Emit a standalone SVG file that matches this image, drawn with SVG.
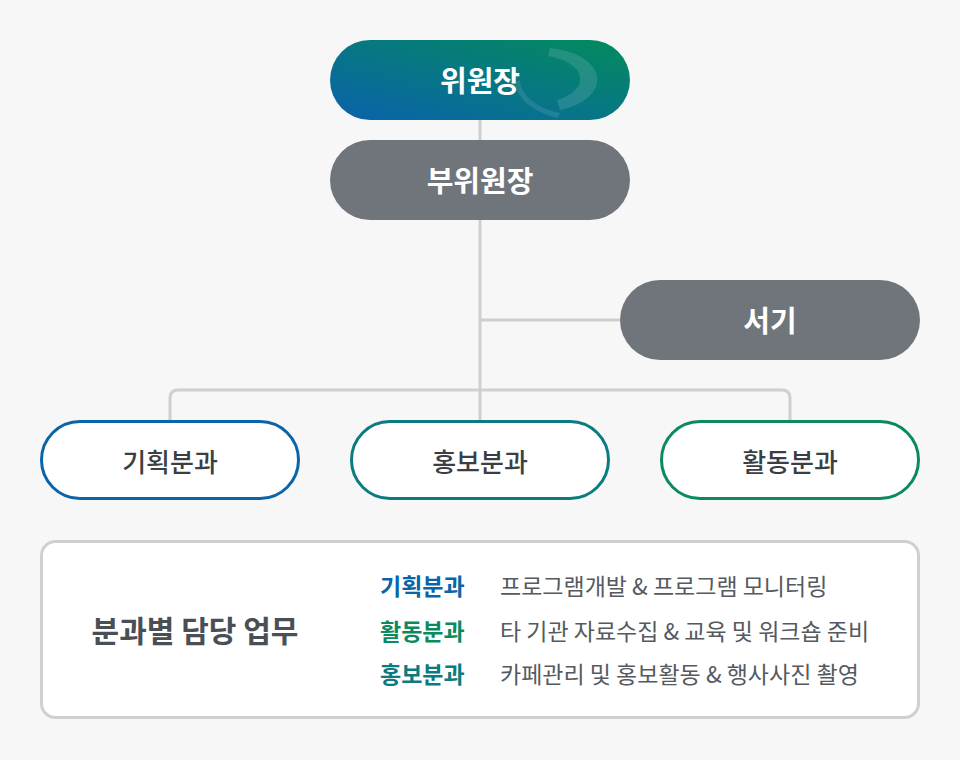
<svg xmlns="http://www.w3.org/2000/svg" width="960" height="760" viewBox="0 0 960 760">
<style>
text{font-family:"Noto Sans CJK KR","Noto Sans",sans-serif;text-anchor:middle;dominant-baseline:central}
.w{fill:#fff;font-size:29px;font-weight:bold}
.sub{fill:#fff;stroke-width:3}
.sl{fill:#3b3f44;font-size:26px;font-weight:500}
.con{fill:none;stroke:#cfcfcf;stroke-width:3}
.k{font-size:23px;font-weight:bold;text-anchor:start}
.d{font-size:23px;fill:#555a60;text-anchor:start}
</style>
<defs>
<linearGradient id="g" x1="0" y1="1" x2="1" y2="0">
<stop offset="0" stop-color="#0b62ac"/><stop offset="1" stop-color="#038b5c"/>
</linearGradient>
<clipPath id="c"><rect x="330" y="40" width="300" height="80" rx="40"/></clipPath>
</defs>
<rect width="960" height="760" fill="#f7f7f7"/>
<g id="connectors" class="con">
<path d="M480 120V420M480 320H620M170 420V398Q170 390 178 390H782Q790 390 790 398V420"/>
</g>
<g id="n1">
<rect x="330" y="40" width="300" height="80" rx="40" fill="url(#g)"/>
<g clip-path="url(#c)"><path d="M550 48 A55 32 0 0 1 560 110 L557 100 A45 24 0 0 0 548 56Z" fill="#fff" opacity="0.12"/><path d="M520 80 A60 35 0 0 0 560 113 L558 118 A65 40 0 0 1 515 82Z" fill="#fff" opacity="0.1"/></g>
<text class="w" x="480" y="79">위원장</text>
</g>
<g id="n2"><rect x="330" y="140" width="300" height="80" rx="40" fill="#6f757b"/><text class="w" x="480" y="179">부위원장</text></g>
<g id="n3"><rect x="620" y="280" width="300" height="80" rx="40" fill="#6f757b"/><text class="w" x="770" y="319">서기</text></g>
<g id="n4"><rect class="sub" x="41.5" y="421.5" width="257" height="77" rx="38.5" stroke="#0a64a8"/><text class="sl" x="170" y="460">기획분과</text></g>
<g id="n5"><rect class="sub" x="351.5" y="421.5" width="257" height="77" rx="38.5" stroke="#0a7b80"/><text class="sl" x="480" y="460">홍보분과</text></g>
<g id="n6"><rect class="sub" x="661.5" y="421.5" width="257" height="77" rx="38.5" stroke="#0a8a5e"/><text class="sl" x="790" y="460">활동분과</text></g>
<g id="info">
<rect x="41.5" y="541.5" width="877" height="176" rx="14" fill="#fff" stroke="#d0d0d0" stroke-width="3"/>
<text x="195" y="629" style="font-size:30px;font-weight:bold;fill:#4a4f55">분과별 담당 업무</text>
<text class="k" x="380" y="585" fill="#0a64a8">기획분과</text>
<text class="d" x="500" y="585">프로그램개발 &amp; 프로그램 모니터링</text>
<text class="k" x="380" y="630" fill="#0a8a5e">활동분과</text>
<text class="d" x="500" y="630">타 기관 자료수집 &amp; 교육 및 워크숍 준비</text>
<text class="k" x="380" y="673" fill="#0a7b80">홍보분과</text>
<text class="d" x="500" y="673">카페관리 및 홍보활동 &amp; 행사사진 촬영</text>
</g>
</svg>
